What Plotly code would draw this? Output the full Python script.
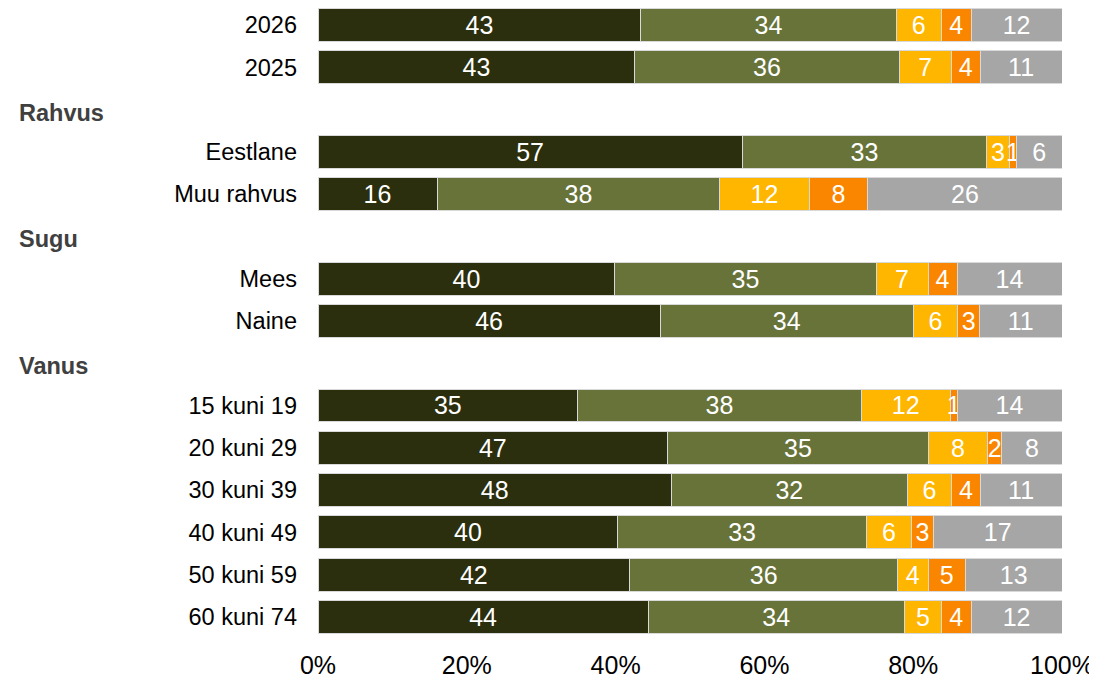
import plotly.graph_objects as go

# Rows (top to bottom) grouped under section headers
group_headers = ["", "Rahvus", "Sugu", "Vanus"]
group_rows = [
    ["2026", "2025"],
    ["Eestlane", "Muu rahvus"],
    ["Mees", "Naine"],
    ["15 kuni 19", "20 kuni 29", "30 kuni 39", "40 kuni 49", "50 kuni 59", "60 kuni 74"],
]

# Series values (%) in row order
s1 = [43.4, 42.6, 57.0, 16.0, 39.9, 46.0, 34.9, 47.0, 47.5, 40.3, 41.9, 44.4]
s2 = [34.3, 35.5, 32.9, 38.0, 35.1, 34.0, 38.1, 35.0, 31.7, 33.4, 36.0, 34.4]
s3 = [6.1, 7.0, 3.0, 12.0, 7.0, 6.0, 12.0, 8.0, 6.0, 6.1, 4.1, 5.0]
s4 = [4.0, 3.9, 1.0, 7.9, 3.9, 2.9, 0.9, 1.9, 3.8, 2.9, 5.0, 4.0]
s5 = [12.2, 11.0, 6.1, 26.1, 14.1, 11.1, 14.1, 8.1, 11.0, 17.3, 13.0, 12.2]

series_names = ["Seeria 1", "Seeria 2", "Seeria 3", "Seeria 4", "Seeria 5"]
series_values = [s1, s2, s3, s4, s5]
series_colors = ["#2c2f0e", "#68733a", "#ffb600", "#fa8600", "#a6a6a6"]

x_ticks = [0, 20, 40, 60, 80, 100]

# Build slot positions
row_labels, row_pos, header_pos = [], [], []
slot = 0
for h, rows in zip(group_headers, group_rows):
    if h:
        header_pos.append((h, slot))
        slot += 1
    for r in rows:
        row_labels.append(r)
        row_pos.append(slot)
        slot += 1
n_slots = slot

FONT = "Liberation Sans, Arial, sans-serif"

fig = go.Figure()
for name, vals, col in zip(series_names, series_values, series_colors):
    fig.add_trace(go.Bar(
        y=row_pos, x=vals, name=name, orientation="h",
        marker=dict(color=col, line=dict(color="#d9d9d9", width=1)),
        width=0.78,
        text=[f"{round(v):d}" for v in vals],
        textposition="inside", insidetextanchor="middle", textangle=0,
        insidetextfont=dict(color="white", size=25, family=FONT),
        hoverinfo="x+y",
    ))

for h, p in header_pos:
    fig.add_annotation(
        text=f"<b>{h}</b>", x=(17 - 318) / 744, xref="paper", xanchor="left",
        y=p, yref="y", yanchor="middle", yshift=-3, showarrow=False,
        font=dict(size=23.5, color="#404040", family=FONT),
    )

fig.update_layout(
    barmode="stack",
    width=1089, height=671,
    margin=dict(l=310, r=35, t=0, b=36),
    plot_bgcolor="white", paper_bgcolor="white",
    showlegend=False,
    uniformtext=dict(minsize=25, mode="show"),
    font=dict(family=FONT, color="black"),
    xaxis=dict(range=[0, 100], tickvals=x_ticks, ticktext=[f"{t}%" for t in x_ticks],
               showgrid=False, zeroline=False, showline=False,
               tickfont=dict(size=25, color="black"), ticklabelstandoff=10),
    yaxis=dict(range=[n_slots - 0.5, -0.403], tickvals=row_pos, ticktext=row_labels,
               showgrid=False, zeroline=False, showline=False,
               tickfont=dict(size=23.5, color="black"), ticklabelstandoff=20),
)

fig.write_html("out.html")
